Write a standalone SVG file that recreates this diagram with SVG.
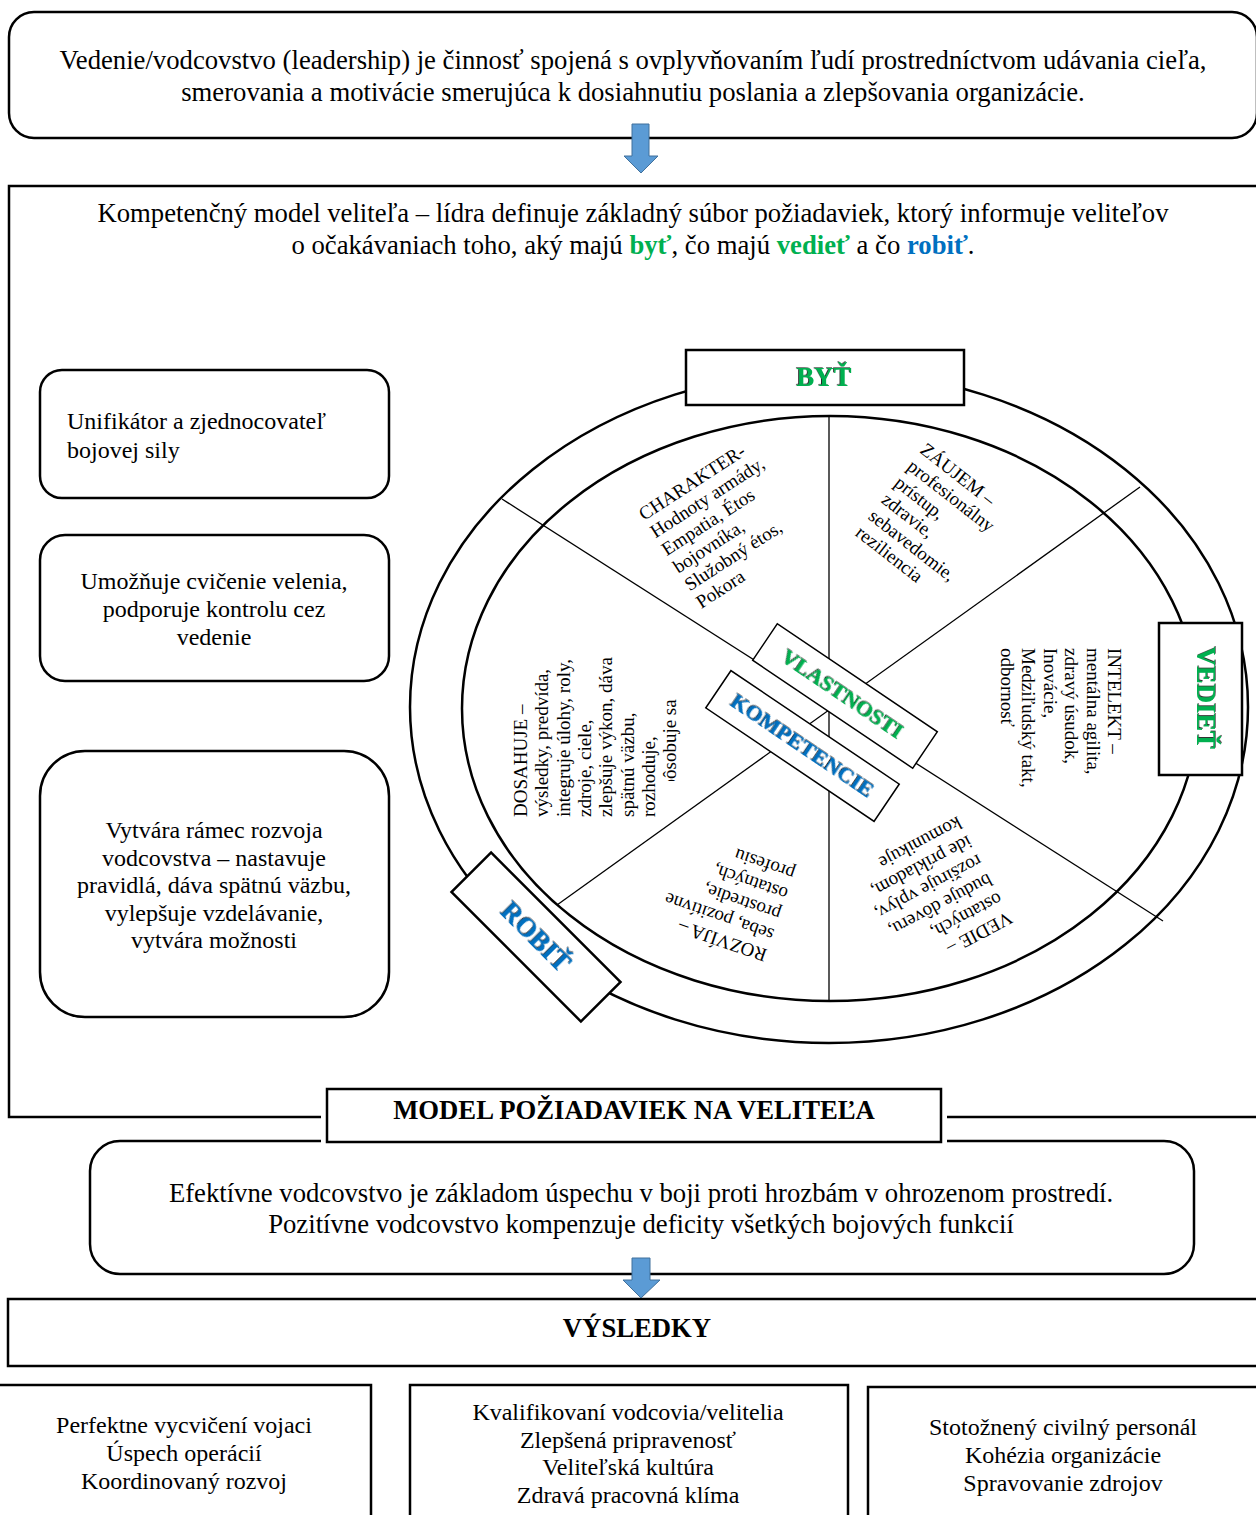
<svg xmlns="http://www.w3.org/2000/svg" width="1256" height="1515" viewBox="0 0 1256 1515">
<defs>
<style>
.box{fill:#fff;stroke:#000;stroke-width:2.5}
.frame{fill:none;stroke:#000;stroke-width:2.5}
.t{font-family:"Liberation Serif","Times New Roman",serif;fill:#000}
.main{font-size:26.7px}
.side{font-size:24px}
.small{font-size:19px}
.b{font-weight:bold}
.g{fill:#00B050}
.bl{fill:#0070C0}
.mid{text-anchor:middle}
.spoke{stroke:#000;stroke-width:1.3;fill:none}
.ell{fill:none;stroke:#000;stroke-width:2.5}
.arrow{fill:#5B9BD5;stroke:#41719C;stroke-width:1}
.lbl{font-weight:bold;filter:url(#sh);text-anchor:middle}
</style>
<filter id="sh" x="-10%" y="-30%" width="120%" height="160%"><feDropShadow dx="-1" dy="-0.6" stdDeviation="0.3" flood-color="#000" flood-opacity="0.85"/></filter>
<clipPath id="clip8"><rect x="640" y="680" width="80" height="101"/></clipPath>
</defs>
<rect x="0" y="0" width="1256" height="1515" fill="#fff"/>

<g id="definition">
<rect class="box" x="9" y="12" width="1248" height="126" rx="25"/>
<text class="t main mid"><tspan x="633" y="69">Vedenie/vodcovstvo (leadership) je činnosť spojená s ovplyvňovaním ľudí prostredníctvom udávania cieľa,</tspan><tspan x="633" y="101">smerovania a motivácie smerujúca k dosiahnutiu poslania a zlepšovania organizácie.</tspan></text>
</g>

<g id="model-frame">
<rect class="frame" x="9" y="186" width="1262" height="931"/>
<text class="t main mid"><tspan x="633" y="222">Kompetenčný model veliteľa – lídra definuje základný súbor požiadaviek, ktorý informuje veliteľov</tspan><tspan x="633" y="254">o očakávaniach toho, aký majú <tspan class="b g">byť</tspan>, čo majú <tspan class="b g">vedieť</tspan> a čo <tspan class="b bl">robiť</tspan>.</tspan></text>
</g>

<g id="side-1">
<rect class="box" x="40" y="370" width="349" height="128" rx="22"/>
<text class="t side"><tspan x="67" y="429">Unifikátor a zjednocovateľ</tspan><tspan x="67" y="458">bojovej sily</tspan></text>
</g>
<g id="side-2">
<rect class="box" x="40" y="535" width="349" height="146" rx="25"/>
<text class="t side mid"><tspan x="214" y="589">Umožňuje cvičenie velenia,</tspan><tspan x="214" y="617">podporuje kontrolu cez</tspan><tspan x="214" y="645">vedenie</tspan></text>
</g>
<g id="side-3">
<rect class="box" x="40" y="751" width="349" height="266" rx="45"/>
<text class="t side mid"><tspan x="214" y="838">Vytvára rámec rozvoja</tspan><tspan x="214" y="866">vodcovstva – nastavuje</tspan><tspan x="214" y="893">pravidlá, dáva spätnú väzbu,</tspan><tspan x="214" y="921">vylepšuje vzdelávanie,</tspan><tspan x="214" y="948">vytvára možnosti</tspan></text>
</g>

<g id="wheel">
<ellipse class="ell" cx="829" cy="707" rx="419" ry="336"/>
<ellipse class="ell" cx="830" cy="708.5" rx="368" ry="292.5"/>
<line class="spoke" x1="829" y1="416" x2="829" y2="1001"/>
<line class="spoke" x1="502" y1="499" x2="1163" y2="921"/>
<line class="spoke" x1="1140" y1="487" x2="557" y2="905"/>
</g>

<g id="sector-charakter" transform="translate(644,521) rotate(-33)">
<text class="t small"><tspan x="0" y="0">CHARAKTER-</tspan><tspan x="0" y="21">Hodnoty armády,</tspan><tspan x="0" y="42">Empatia, Étos</tspan><tspan x="0" y="63">bojovníka,</tspan><tspan x="0" y="84">Služobný étos,</tspan><tspan x="0" y="105">Pokora</tspan></text>
</g>
<g id="sector-zaujem" transform="translate(919,452) rotate(38)">
<text class="t small"><tspan x="0" y="0">ZÁUJEM –</tspan><tspan x="0" y="21">profesionálny</tspan><tspan x="0" y="42">prístup,</tspan><tspan x="0" y="63">zdravie,</tspan><tspan x="0" y="84">sebavedomie,</tspan><tspan x="0" y="105">reziliencia</tspan></text>
</g>
<g id="sector-intelekt" transform="translate(1108,648) rotate(90)">
<text class="t small"><tspan x="0" y="0">INTELEKT –</tspan><tspan x="0" y="21.4">mentálna agilita,</tspan><tspan x="0" y="42.8">zdravý úsudok,</tspan><tspan x="0" y="64.2">Inovácie,</tspan><tspan x="0" y="85.6">Medziľudský takt,</tspan><tspan x="0" y="107">odbornosť</tspan></text>
</g>
<g id="sector-dosahuje">
<text class="t small" transform="translate(527,817) rotate(-90)"><tspan x="0" y="0">DOSAHUJE –</tspan><tspan x="0" y="21.3">výsledky, predvída,</tspan><tspan x="0" y="42.6">integruje úlohy, roly,</tspan><tspan x="0" y="63.9">zdroje, ciele,</tspan><tspan x="0" y="85.2">zlepšuje výkon, dáva</tspan><tspan x="0" y="106.5">spätnú väzbu,</tspan><tspan x="0" y="127.8">rozhoduje,</tspan></text>
<g clip-path="url(#clip8)"><text class="t small" transform="translate(527,817) rotate(-90)" x="0" y="149.1">prispôsobuje sa</text></g>
</g>
<g id="sector-rozvija" transform="translate(768,950) rotate(199)">
<text class="t small"><tspan x="0" y="0">ROZVÍJA –</tspan><tspan x="0" y="21.5">seba, pozitívne</tspan><tspan x="0" y="43">prostredie,</tspan><tspan x="0" y="64.5">ostatných,</tspan><tspan x="0" y="86">profesiu</tspan></text>
</g>
<g id="sector-vedie" transform="translate(1008,911) rotate(152)">
<text class="t small"><tspan x="0" y="0">VEDIE –</tspan><tspan x="0" y="21.5">ostatných,</tspan><tspan x="0" y="43">buduje dôveru,</tspan><tspan x="0" y="64.5">rozširuje vplyv,</tspan><tspan x="0" y="86">ide príkladom,</tspan><tspan x="0" y="107.5">komunikuje</tspan></text>
</g>

<g id="label-byt">
<rect class="box" x="686" y="350" width="278" height="55"/>
<text class="t main lbl g" x="824" y="386">BYŤ</text>
</g>
<g id="label-vediet">
<rect class="box" x="1159" y="623" width="83" height="152"/>
<text class="t main lbl g" transform="translate(1197,698) rotate(90)" x="0" y="0">VEDIEŤ</text>
</g>
<g id="label-robit" transform="translate(536,937) rotate(45)">
<rect class="box" x="-91.5" y="-28" width="183" height="56"/>
<text class="t main lbl bl" x="0" y="9">ROBIŤ</text>
</g>
<g id="label-vlastnosti" transform="translate(845,696) rotate(34)">
<rect class="box" style="stroke-width:1.5" x="-96.5" y="-22" width="193" height="44"/>
<text class="t lbl g" style="font-size:22px" x="-3" y="7">VLASTNOSTI</text>
</g>
<g id="label-kompetencie" transform="translate(802.5,746) rotate(34)">
<rect class="box" style="stroke-width:1.5" x="-101.5" y="-22.5" width="203" height="45"/>
<text class="t lbl bl" style="font-size:22px" x="0" y="7">KOMPETENCIE</text>
</g>

<g id="effective">
<rect class="frame" x="90" y="1141" width="1104" height="133" rx="30"/>
<text class="t main mid"><tspan x="641" y="1202">Efektívne vodcovstvo je základom úspechu v boji proti hrozbám v ohrozenom prostredí.</tspan><tspan x="641" y="1233">Pozitívne vodcovstvo kompenzuje deficity všetkých bojových funkcií</tspan></text>
</g>

<g id="model-title">
<rect x="321" y="1083" width="626" height="65" fill="#fff"/>
<rect class="box" x="327" y="1089" width="614" height="53"/>
<text class="t main b mid" x="634" y="1119">MODEL POŽIADAVIEK NA VELITEĽA</text>
</g>

<g id="results">
<rect class="box" x="8" y="1299" width="1260" height="67"/>
<text class="t main b mid" x="637" y="1337">VÝSLEDKY</text>
</g>

<g id="result-1">
<rect class="box" x="-3" y="1385" width="374" height="140"/>
<text class="t side mid"><tspan x="184" y="1433">Perfektne vycvičení vojaci</tspan><tspan x="184" y="1461">Úspech operácií</tspan><tspan x="184" y="1489">Koordinovaný rozvoj</tspan></text>
</g>
<g id="result-2">
<rect class="box" x="410" y="1385" width="438" height="140"/>
<text class="t side mid"><tspan x="628" y="1420">Kvalifikovaní vodcovia/velitelia</tspan><tspan x="628" y="1448">Zlepšená pripravenosť</tspan><tspan x="628" y="1475">Veliteľská kultúra</tspan><tspan x="628" y="1503">Zdravá pracovná klíma</tspan></text>
</g>
<g id="result-3">
<rect class="box" x="868" y="1387" width="400" height="140"/>
<text class="t side mid"><tspan x="1063" y="1435">Stotožnený civilný personál</tspan><tspan x="1063" y="1463">Kohézia organizácie</tspan><tspan x="1063" y="1491">Spravovanie zdrojov</tspan></text>
</g>

<g id="connectors">
<path class="arrow" d="M632,124 H649 V156 H658 L641,173 L624,156 H632 Z"/>
<path class="arrow" d="M632,1258 H650 V1280 H660 L641,1298 L623,1280 H632 Z"/>
</g>
</svg>
